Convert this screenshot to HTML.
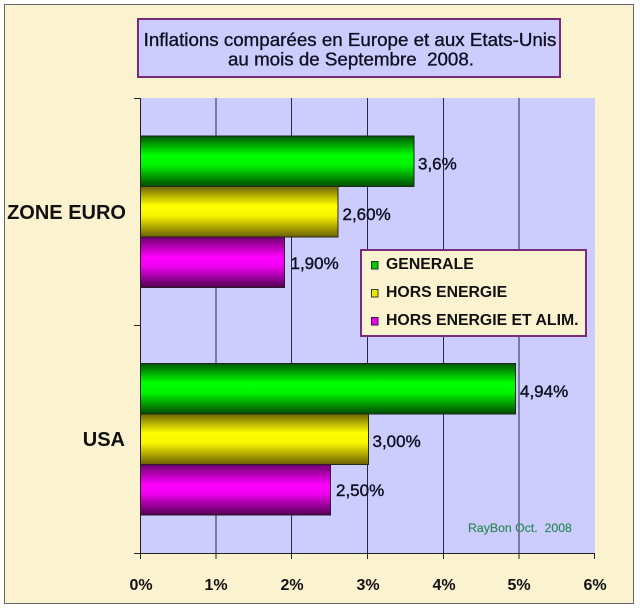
<!DOCTYPE html>
<html>
<head>
<meta charset="utf-8">
<style>
html,body{margin:0;padding:0;background:#fff;}
svg{display:block;}
text{font-family:"Liberation Sans",Arial,sans-serif;}
</style>
</head>
<body>
<svg width="640" height="610" viewBox="0 0 640 610" xmlns="http://www.w3.org/2000/svg">
<defs>
<linearGradient id="gG" x1="0" y1="0" x2="0" y2="1">
<stop offset="0" stop-color="#005500"/>
<stop offset="0.38" stop-color="#00ff00"/>
<stop offset="0.58" stop-color="#00f400"/>
<stop offset="1" stop-color="#004a00"/>
</linearGradient>
<linearGradient id="gY" x1="0" y1="0" x2="0" y2="1">
<stop offset="0" stop-color="#6e6600"/>
<stop offset="0.38" stop-color="#ffff00"/>
<stop offset="0.58" stop-color="#f8f400"/>
<stop offset="1" stop-color="#6a6000"/>
</linearGradient>
<linearGradient id="gM" x1="0" y1="0" x2="0" y2="1">
<stop offset="0" stop-color="#6e006e"/>
<stop offset="0.4" stop-color="#ff00ff"/>
<stop offset="0.58" stop-color="#f000f0"/>
<stop offset="1" stop-color="#520052"/>
</linearGradient>
</defs>

<rect x="0" y="0" width="640" height="610" fill="#ffffff"/>
<rect x="4.5" y="4.5" width="629" height="599" fill="#fbf3cf" stroke="#666666" stroke-width="1"/>

<!-- Title -->
<rect x="138" y="19" width="422" height="58" fill="#ccccff" stroke="#7a2a7a" stroke-width="2"/>
<g font-size="18.75" text-anchor="middle" fill="#111122" stroke="#111122" stroke-width="0.35">
<text x="350" y="46">Inflations comparées en Europe et aux Etats-Unis</text>
<text x="351" y="65.5">au mois de Septembre&#160; 2008.</text>
</g>

<!-- Plot area -->
<rect x="140" y="98" width="455" height="455" fill="#ccccff"/>
<g stroke="#2a2a3a" stroke-width="1">
<line x1="216" y1="98" x2="216" y2="553"/>
<line x1="291.5" y1="98" x2="291.5" y2="553"/>
<line x1="367.5" y1="98" x2="367.5" y2="553"/>
<line x1="443.5" y1="98" x2="443.5" y2="553"/>
<line x1="519" y1="98" x2="519" y2="553"/>
</g>

<!-- Bars ZONE EURO -->
<rect x="140.5" y="136" width="273.5" height="50.5" fill="url(#gG)" stroke="#1a2a1a" stroke-width="1"/>
<rect x="140.5" y="186.5" width="197.5" height="50.5" fill="url(#gY)" stroke="#2a2a1a" stroke-width="1"/>
<rect x="140.5" y="237" width="144" height="50.5" fill="url(#gM)" stroke="#2a1a2a" stroke-width="1"/>

<!-- Bars USA -->
<rect x="140.5" y="363.5" width="375" height="50.5" fill="url(#gG)" stroke="#1a2a1a" stroke-width="1"/>
<rect x="140.5" y="414" width="228" height="50.5" fill="url(#gY)" stroke="#2a2a1a" stroke-width="1"/>
<rect x="140.5" y="464.5" width="190" height="50.5" fill="url(#gM)" stroke="#2a1a2a" stroke-width="1"/>

<!-- Axes -->
<g stroke="#222" stroke-width="1">
<line x1="140.5" y1="98" x2="140.5" y2="553"/>
<line x1="134" y1="98.5" x2="140.5" y2="98.5"/>
<line x1="134" y1="325.5" x2="140.5" y2="325.5"/>
<line x1="134" y1="553.5" x2="595" y2="553.5"/>
<line x1="140.5" y1="553" x2="140.5" y2="559"/>
<line x1="216" y1="553" x2="216" y2="559"/>
<line x1="291.5" y1="553" x2="291.5" y2="559"/>
<line x1="367.5" y1="553" x2="367.5" y2="559"/>
<line x1="443.5" y1="553" x2="443.5" y2="559"/>
<line x1="519" y1="553" x2="519" y2="559"/>
<line x1="594.5" y1="553" x2="594.5" y2="559"/>
</g>

<!-- Data labels -->
<g font-size="17" fill="#111122" stroke="#111122" stroke-width="0.4">
<text x="418" y="169.5">3,6%</text>
<text x="342.5" y="220">2,60%</text>
<text x="290.5" y="269">1,90%</text>
<text x="520" y="397">4,94%</text>
<text x="372.5" y="447">3,00%</text>
<text x="336" y="496">2,50%</text>
</g>

<!-- Category labels -->
<g font-size="20" font-weight="bold" fill="#111111" text-anchor="end">
<text x="126" y="219">ZONE EURO</text>
<text x="125" y="446">USA</text>
</g>

<!-- X axis labels -->
<g font-size="16" font-weight="bold" fill="#111111" text-anchor="middle">
<text x="141" y="590">0%</text>
<text x="216" y="590">1%</text>
<text x="292" y="590">2%</text>
<text x="368" y="590">3%</text>
<text x="444" y="590">4%</text>
<text x="519" y="590">5%</text>
<text x="595" y="590">6%</text>
</g>

<!-- Legend -->
<rect x="361" y="250" width="225" height="86" fill="#fbf3cf" stroke="#7a2a7a" stroke-width="2"/>
<rect x="371.5" y="261.5" width="6.5" height="7.5" fill="#00cc00" stroke="#1a3a1a" stroke-width="1"/>
<rect x="371.5" y="289.5" width="6.5" height="7.5" fill="#e8e800" stroke="#3a3a1a" stroke-width="1"/>
<rect x="371.5" y="317.5" width="6.5" height="7.5" fill="#ee00ee" stroke="#3a1a3a" stroke-width="1"/>
<g font-size="15.8" font-weight="bold" fill="#111111">
<text x="386" y="269">GENERALE</text>
<text x="386" y="297">HORS ENERGIE</text>
<text x="386" y="325">HORS ENERGIE ET ALIM.</text>
</g>

<!-- Watermark -->
<text x="468" y="532" font-size="12.3" fill="#2e8b57" stroke="#2e8b57" stroke-width="0.2">RayBon Oct.&#160; 2008</text>
</svg>
</body>
</html>
